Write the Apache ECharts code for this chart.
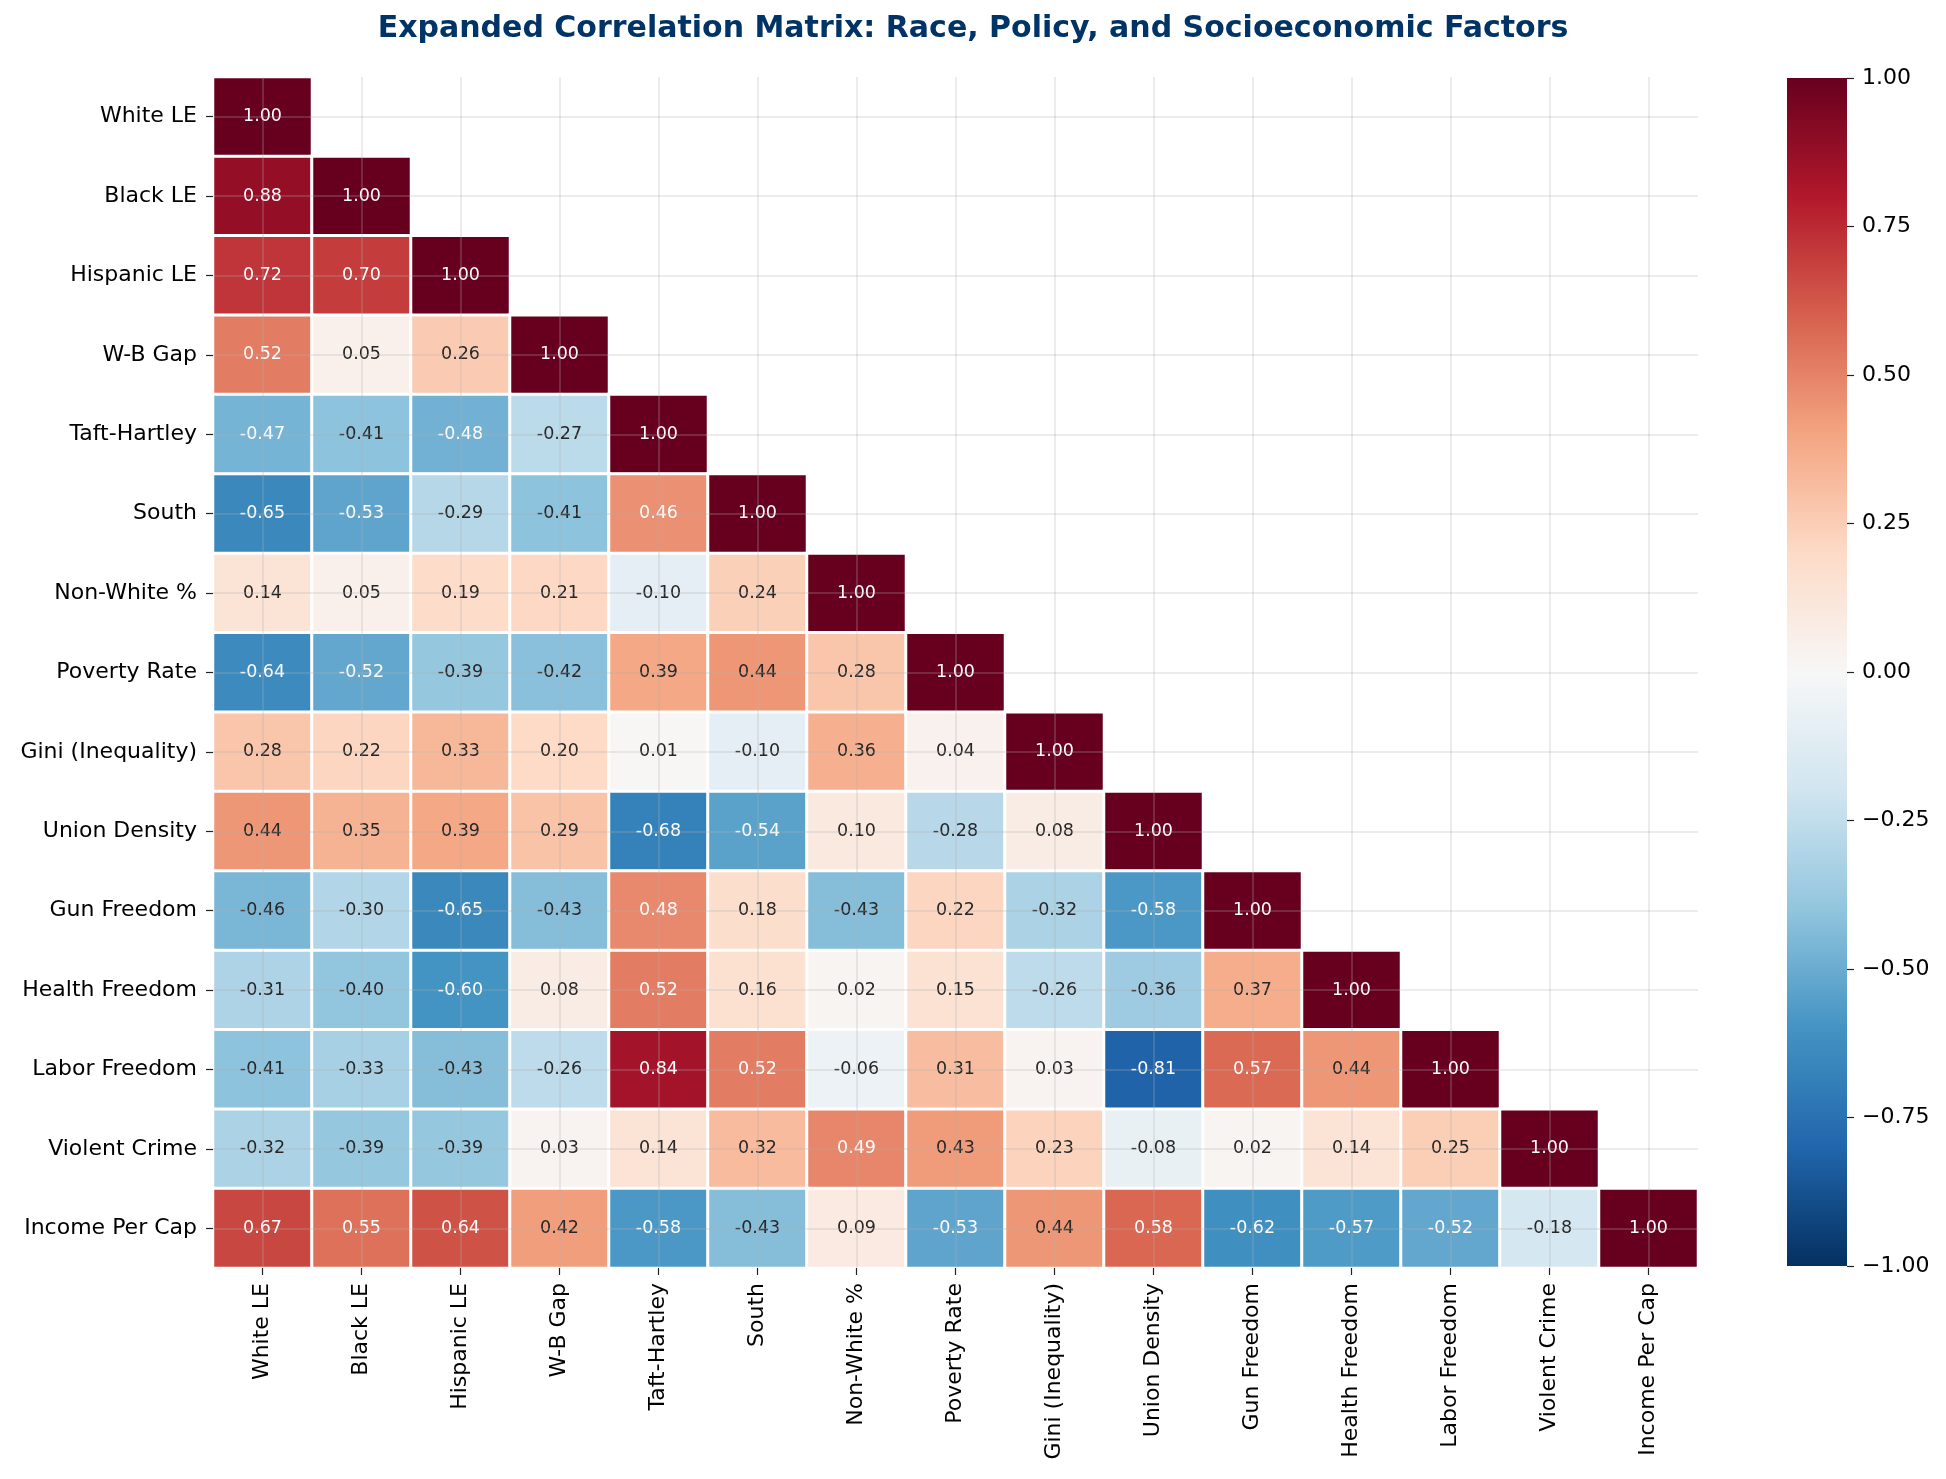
<!DOCTYPE html>
<html>
<head>
<meta charset="utf-8">
<title>Expanded Correlation Matrix</title>
<script src="https://cdn.jsdelivr.net/npm/echarts@6/dist/echarts.min.js"></script>
<style>
  html, body { margin: 0; padding: 0; background: #fff; }
  #main { width: 1946px; height: 1479px; }
</style>
</head>
<body>
<div id="main"></div>
<script>
// variable names, same order on both axes
const labels = ['White LE', 'Black LE', 'Hispanic LE', 'W-B Gap', 'Taft-Hartley', 'South',
  'Non-White %', 'Poverty Rate', 'Gini (Inequality)', 'Union Density', 'Gun Freedom',
  'Health Freedom', 'Labor Freedom', 'Violent Crime', 'Income Per Cap'];

// lower triangle (incl. diagonal), one row per variable
const rowWhiteLE = [1.00];
const rowBlackLE = [0.88, 1.00];
const rowHispanicLE = [0.72, 0.70, 1.00];
const rowWBGap = [0.52, 0.05, 0.26, 1.00];
const rowTaftHartley = [-0.47, -0.41, -0.48, -0.27, 1.00];
const rowSouth = [-0.65, -0.53, -0.29, -0.41, 0.46, 1.00];
const rowNonWhite = [0.14, 0.05, 0.19, 0.21, -0.10, 0.24, 1.00];
const rowPoverty = [-0.64, -0.52, -0.39, -0.42, 0.39, 0.44, 0.28, 1.00];
const rowGini = [0.28, 0.22, 0.33, 0.20, 0.01, -0.10, 0.36, 0.04, 1.00];
const rowUnion = [0.44, 0.35, 0.39, 0.29, -0.68, -0.54, 0.10, -0.28, 0.08, 1.00];
const rowGun = [-0.46, -0.30, -0.65, -0.43, 0.48, 0.18, -0.43, 0.22, -0.32, -0.58, 1.00];
const rowHealth = [-0.31, -0.40, -0.60, 0.08, 0.52, 0.16, 0.02, 0.15, -0.26, -0.36, 0.37, 1.00];
const rowLabor = [-0.41, -0.33, -0.43, -0.26, 0.84, 0.52, -0.06, 0.31, 0.03, -0.81, 0.57, 0.44, 1.00];
const rowCrime = [-0.32, -0.39, -0.39, 0.03, 0.14, 0.32, 0.49, 0.43, 0.23, -0.08, 0.02, 0.14, 0.25, 1.00];
const rowIncome = [0.67, 0.55, 0.64, 0.42, -0.58, -0.43, 0.09, -0.53, 0.44, 0.58, -0.62, -0.57, -0.52, -0.18, 1.00];

const matrix = [rowWhiteLE, rowBlackLE, rowHispanicLE, rowWBGap, rowTaftHartley, rowSouth,
  rowNonWhite, rowPoverty, rowGini, rowUnion, rowGun, rowHealth, rowLabor, rowCrime, rowIncome];

// colour scale range
const vMin = -1;
const vMax = 1;

// RdBu_r stops, low -> high
const rdbu = ['#053061', '#2166ac', '#4393c3', '#92c5de', '#d1e5f0', '#f7f7f7',
  '#fddbc7', '#f4a582', '#d6604d', '#b2182b', '#67001f'];

const FONT = 'DejaVu Sans';

function hexRgb(h) {
  return [parseInt(h.substr(1, 2), 16), parseInt(h.substr(3, 2), 16), parseInt(h.substr(5, 2), 16)];
}

// same lookup as a 256-entry colormap, used only to choose the annotation colour
function cmapColor(v) {
  let t = (v - vMin) / (vMax - vMin);
  let idx = Math.min(255, Math.max(0, Math.floor(t * 256)));
  t = idx / 255;
  const pos = t * (rdbu.length - 1);
  const i = Math.min(rdbu.length - 2, Math.floor(pos));
  const f = pos - i;
  const a = hexRgb(rdbu[i]), b = hexRgb(rdbu[i + 1]);
  return a.map((c, k) => c + (b[k] - c) * f);
}

function textColor(v) {
  const lin = cmapColor(v).map((c) => {
    c = c / 255;
    return c <= 0.03928 ? c / 12.92 : Math.pow((c + 0.055) / 1.055, 2.4);
  });
  const lum = 0.2126 * lin[0] + 0.7152 * lin[1] + 0.0722 * lin[2];
  return lum > 0.408 ? '#262626' : '#ffffff';
}

const cells = [];
matrix.forEach((row, y) => {
  row.forEach((v, x) => {
    cells.push({ value: [x, y, v], label: { color: textColor(v) } });
  });
});

const chart = echarts.init(document.getElementById('main'));

const gridLine = { color: 'rgba(176,176,176,0.32)', width: 1.5 };

// colorbar gradient, top = vMax
const cbarGradient = new echarts.graphic.LinearGradient(0, 0, 0, 1,
  rdbu.slice().reverse().map((c, i) => ({ offset: i / (rdbu.length - 1), color: c })));

const option = {
  backgroundColor: '#ffffff',
  animation: false,
  title: {
    text: 'Expanded Correlation Matrix: Race, Policy, and Socioeconomic Factors',
    left: 'center',
    top: 9,
    textStyle: { fontFamily: FONT, fontSize: 30, fontWeight: 'bold', color: '#003366' },
  },
  grid: [
    { left: 213, top: 77, width: 1485, height: 1191 },
    { left: 1787, top: 78, width: 60, height: 1188 },
  ],
  xAxis: [
    {
      type: 'category',
      gridIndex: 0,
      data: labels,
      position: 'bottom',
      z: 5,
      axisLine: { show: false },
      axisTick: { show: true, alignWithLabel: true, length: 7, lineStyle: { color: '#222', width: 1.2 } },
      axisLabel: { rotate: 90, margin: 15, fontFamily: FONT, fontSize: 22, color: '#000' },
      splitLine: { show: true, alignWithLabel: true, lineStyle: gridLine },
    },
    {
      type: 'value',
      gridIndex: 1,
      show: false,
      min: 0,
      max: 1,
      axisLine: { show: false },
      axisTick: { show: false },
      axisLabel: { show: false },
      splitLine: { show: false },
    },
  ],
  yAxis: [
    {
      type: 'category',
      gridIndex: 0,
      data: labels,
      inverse: true,
      z: 5,
      axisLine: { show: false },
      axisTick: { show: true, alignWithLabel: true, length: 7, lineStyle: { color: '#222', width: 1.2 } },
      axisLabel: { margin: 16, fontFamily: FONT, fontSize: 22, color: '#000' },
      splitLine: { show: true, alignWithLabel: true, lineStyle: gridLine },
    },
    {
      type: 'value',
      gridIndex: 1,
      position: 'right',
      min: vMin,
      max: vMax,
      interval: 0.25,
      axisLine: { show: false, onZero: false },
      axisTick: { show: true, length: 7, lineStyle: { color: '#222', width: 1.2 } },
      axisLabel: {
        margin: 15,
        fontFamily: FONT,
        fontSize: 22,
        color: '#000',
        formatter: (v) => (v < 0 ? '\u2212' : '') + Math.abs(v).toFixed(2),
      },
      splitLine: { show: false },
      minorTick: { show: false },
    },
  ],
  visualMap: {
    type: 'continuous',
    show: false,
    seriesIndex: 0,
    min: vMin,
    max: vMax,
    inRange: { color: rdbu },
  },
  series: [
    {
      type: 'heatmap',
      xAxisIndex: 0,
      yAxisIndex: 0,
      data: cells,
      itemStyle: { borderColor: '#ffffff', borderWidth: 3 },
      label: {
        show: true,
        fontFamily: FONT,
        fontSize: 17.5,
        formatter: (p) => p.value[2].toFixed(2),
      },
      emphasis: { disabled: true },
    },
    {
      // colorbar
      type: 'custom',
      xAxisIndex: 1,
      yAxisIndex: 1,
      silent: true,
      z: 1,
      data: [[0, vMin, 1, vMax]],
      renderItem: (params, api) => {
        const p0 = api.coord([api.value(0), api.value(3)]);
        const p1 = api.coord([api.value(2), api.value(1)]);
        return {
          type: 'rect',
          shape: { x: p0[0], y: p0[1], width: p1[0] - p0[0], height: p1[1] - p0[1] },
          style: { fill: cbarGradient },
        };
      },
    },
  ],
};

chart.setOption(option);
</script>
</body>
</html>
